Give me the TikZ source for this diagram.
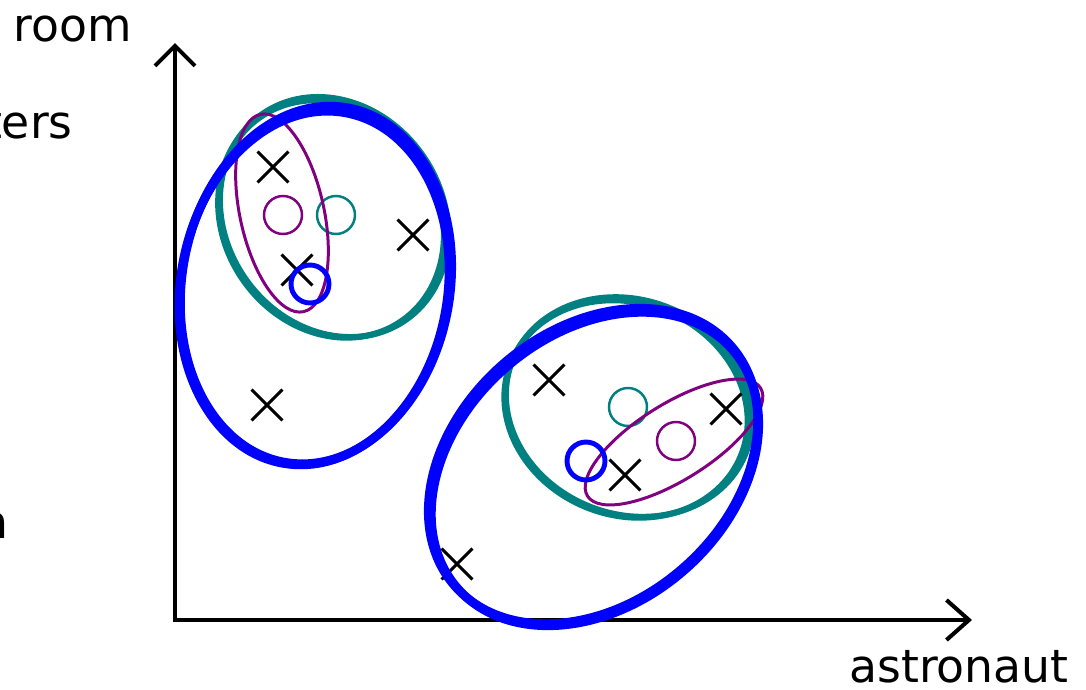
\documentclass[tikz,border=0pt]{standalone}
\usepackage{fontspec}
\setmainfont{DejaVu Sans}
\usetikzlibrary{arrows.meta,shapes.misc}

\definecolor{gmmteal}{RGB}{0,128,128}
\definecolor{gmmpurple}{RGB}{128,0,128}
\definecolor{gmmblue}{RGB}{0,0,255}

\tikzset{
  axis/.style={line width=2.3pt,{Straight Barb[length=0.4cm,width=0.8cm]}-{Straight Barb[length=0.45cm,width=0.8cm]}},
  axislabel/.style={font=\fontsize{26}{30}\selectfont,inner sep=0pt},
  sample/.style={cross out,draw=black,line width=1.7pt,minimum size=0.56cm,inner sep=0pt},
  mean/.style={circle,draw,line width=1.4pt,minimum size=0.76cm,inner sep=0pt},
  tealfit/.style={draw=gmmteal,line width=3.4pt},
  purplefit/.style={draw=gmmpurple,line width=1.7pt},
  bluefit/.style={draw=gmmblue,line width=5pt},
}

\begin{document}
\begin{tikzpicture}[x=0.02cm,y=-0.02cm]
  \useasboundingbox (0,0) rectangle (1086,690);

  % axes
  \coordinate (origin) at (175,620); \coordinate (ytop) at (175,43); \coordinate (xend) at (972,620);
  \draw[axis] (ytop) -- (origin) -- (xend);
  \node[axislabel,anchor=base] (ylabel) at (73,41) {room};
  \node[axislabel,anchor=base east] (ptlabel) at (73,138) {ters};
  \node[axislabel,anchor=base east] (nlabel) at (9,538) {n};
  \node[axislabel,anchor=base] (xlabel) at (959,682) {astronaut};

  % teal fits
  \draw[tealfit,rotate around={35:(334,217)}] (334,217) ellipse (108 and 125.5);
  \draw[tealfit,rotate around={35:(331,219)}] (331,219) ellipse (107 and 124);
  \draw[tealfit,rotate around={-22:(629,407)}] (629,407) ellipse (125.5 and 107);
  \draw[tealfit,rotate around={-22:(626,409)}] (626,409) ellipse (124 and 106);
  \node[mean,draw=gmmteal] (tealA) at (336,215) {};
  \node[mean,draw=gmmteal] (tealB) at (628,407) {};

  % purple fits
  \draw[purplefit,rotate around={12.3:(282,213)}] (282,213) ellipse (42 and 101);
  \draw[purplefit,rotate around={32:(674,442)}] (674,442) ellipse (102 and 38);
  \node[mean,draw=gmmpurple] (purpleA) at (283,215) {};
  \node[mean,draw=gmmpurple] (purpleB) at (676,441) {};

  % data points
  \node[sample] (s1) at (273,167) {};
  \node[sample] (s2) at (413,235) {};
  \node[sample] (s3) at (297,270) {};
  \node[sample] (s4) at (267,405) {};
  \node[sample] (s5) at (549,380) {};
  \node[sample] (s6) at (726,409) {};
  \node[sample] (s7) at (625,475) {};
  \node[sample] (s8) at (457,564) {};

  % blue fits
  \draw[bluefit,rotate around={-10:(316,285)}] (316,285) ellipse (134 and 180);
  \draw[bluefit,rotate around={-10:(314,288)}] (314,288) ellipse (133.5 and 178);
  \draw[bluefit,rotate around={40.7:(593,466)}] (593,466) ellipse (183 and 136);
  \draw[bluefit,rotate around={40.7:(595,469)}] (595,469) ellipse (182 and 135);
  \node[mean,draw=gmmblue,line width=2.8pt] (blueA) at (310,284) {};
  \node[mean,draw=gmmblue,line width=2.8pt] (blueB) at (586,461) {};
\end{tikzpicture}
\end{document}
